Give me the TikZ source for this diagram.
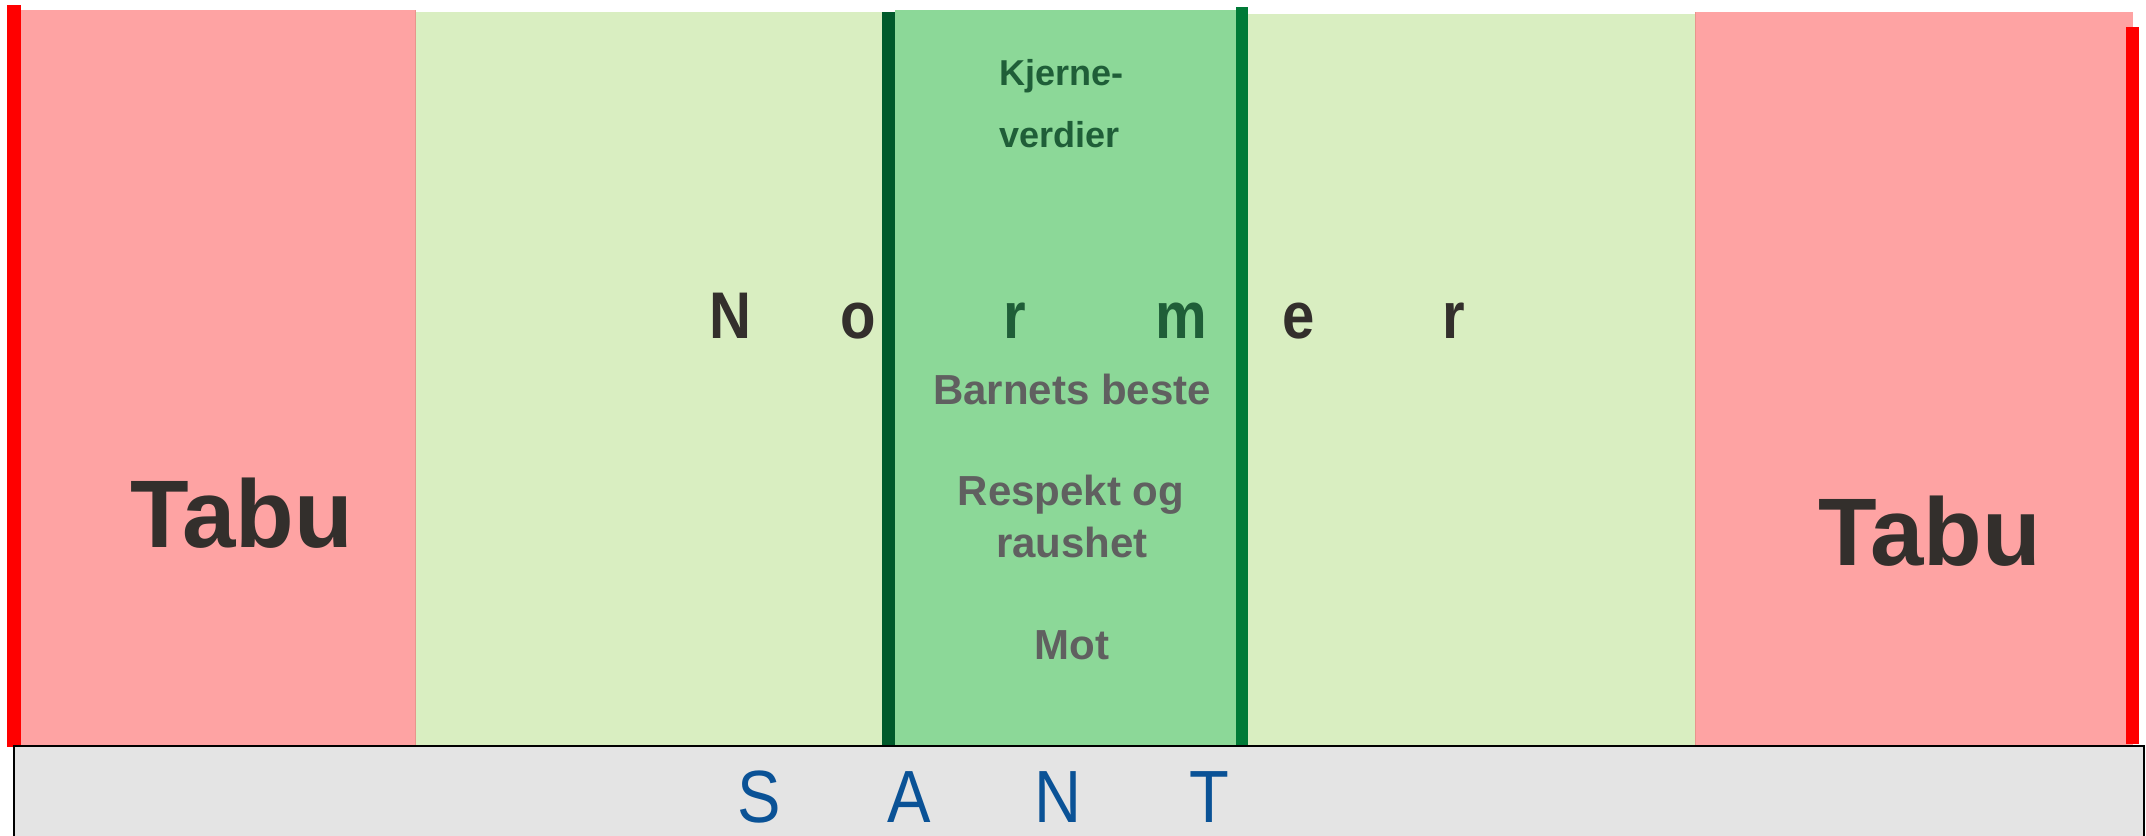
\documentclass[tikz,border=0pt]{standalone}
\usepackage{fontspec}
\setmainfont{Liberation Sans}
\definecolor{pinkc}{HTML}{FEA3A3}
\definecolor{ltgreen}{HTML}{D9EEC1}
\definecolor{midgreen}{HTML}{8CD898}
\definecolor{barL}{HTML}{005A2B}
\definecolor{barR}{HTML}{007A37}
\definecolor{redc}{HTML}{FF0000}
\definecolor{grayc}{HTML}{E4E4E4}
\definecolor{darktxt}{HTML}{332F2C}
\definecolor{kjtxt}{HTML}{1F5E38}
\definecolor{graytxt}{HTML}{606060}
\definecolor{santc}{HTML}{0A5296}
\definecolor{edgec}{HTML}{E8958C}
\tikzset{
  txt/.style={inner sep=0pt, outer sep=0pt, anchor=base},
  tabutxt/.style={txt, text=darktxt, font=\fontsize{48pt}{48pt}\selectfont\bfseries},
  normtxt/.style={txt, text=darktxt, font=\fontsize{33pt}{33pt}\selectfont\bfseries},
  normin/.style={normtxt, text=kjtxt},
  kjtxtst/.style={txt, anchor=base west, text=kjtxt, font=\fontsize{18pt}{18pt}\selectfont\bfseries},
  valtxt/.style={txt, text=graytxt, font=\fontsize{21pt}{21pt}\selectfont\bfseries},
  santtxt/.style={txt, text=santc, font=\fontsize{37pt}{37pt}\selectfont},
}
\newcommand{\cnd}[1]{\scalebox{0.88}[1]{#1}}
\begin{document}
\begin{tikzpicture}[x=0.5pt,y=-0.5pt]
\useasboundingbox (0,0) rectangle (2146,835);
% zones
\fill[pinkc] (21,10) rectangle (415,746);
\fill[ltgreen] (415,12) rectangle (882,746);
\fill[midgreen] (895,10) rectangle (1236,746);
\fill[ltgreen] (1248,14) rectangle (1695,746);
\fill[pinkc] (1695,12) rectangle (2133,746);
\draw[edgec, line width=0.5pt] (415,10) -- (415,746);
\draw[edgec, line width=0.5pt] (1695,12) -- (1695,746);
% bars
\fill[redc] (7,5) rectangle (21,747);
\fill[redc] (2126,27) rectangle (2139,744);
\fill[barL] (882,12) rectangle (895,746);
\fill[barR] (1236,7) rectangle (1248,746);
% base box
\draw[fill=grayc, draw=black, line width=1pt] (14,746) rectangle (2144,850);
% Tabu
\node[tabutxt] (tabuL) at (242,547) {Tabu};
\node[tabutxt] (tabuR) at (1930,565) {Tabu};
% Normer
\node[normtxt] (nN) at (730,338) {\cnd{N}};
\node[normtxt] (nO) at (858,338) {\cnd{o}};
\node[normin]  (nR) at (1015,338) {\cnd{r}};
\node[normin]  (nM) at (1181,338) {\cnd{m}};
\node[normtxt] (nE) at (1299,338) {\cnd{e}};
\node[normtxt] (nR2) at (1454,338) {\cnd{r}};
% Kjerneverdier
\node[kjtxtst] (kj1) at (999,85) {Kjerne-};
\node[kjtxtst] (kj2) at (999,147) {verdier};
% values
\node[valtxt] (v1) at (1072,404) {Barnets beste};
\node[valtxt] (v2) at (1071,505) {Respekt og};
\node[valtxt] (v3) at (1072,557) {raushet};
\node[valtxt] (v4) at (1072,659) {Mot};
% SANT
\node[santtxt] (sS) at (759,822) {\cnd{S}};
\node[santtxt] (sA) at (909,822) {\cnd{A}};
\node[santtxt] (sN) at (1058,822) {\cnd{N}};
\node[santtxt] (sT) at (1209,822) {\cnd{T}};
\end{tikzpicture}
\end{document}
